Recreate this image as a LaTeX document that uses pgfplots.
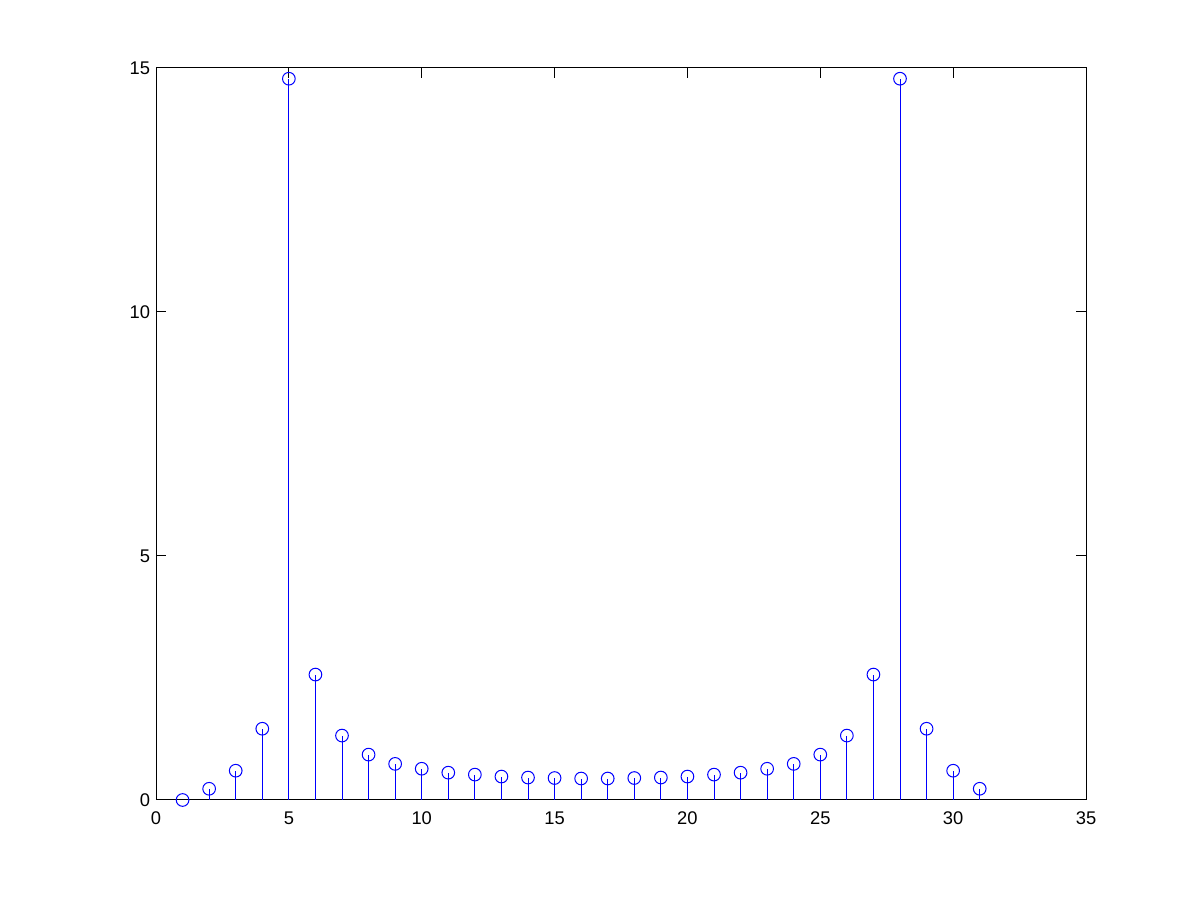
\documentclass[border=0pt]{standalone}
\usepackage{fontspec}
\setmainfont{Liberation Sans}
\usepackage{pgfplots}
\pgfplotsset{compat=1.18}
\definecolor{mblue}{RGB}{0,0,255}
\begin{document}
\begin{tikzpicture}
\useasboundingbox (0,0) rectangle (720pt,540pt);
\begin{axis}[
  at={(93.6pt,60pt)}, anchor=south west,
  scale only axis, width=558pt, height=439.2pt,
  xmin=0, xmax=35, ymin=0, ymax=15,
  xtick={0,5,...,35}, ytick={0,5,10,15},
  tick align=inside, major tick length=6pt,
  axis line style={line width=0.6pt}, tick style={line width=0.6pt, black},
  ticklabel style={font=\fontsize{11}{13}\selectfont},
  /pgf/number format/assume math mode=true,
  xticklabel style={yshift=-3.5pt},
  clip=false,
]
\addplot+[ycomb, mblue, line width=0.6pt, mark=o, mark size=3.8pt, mark options={mblue, line width=0.6pt, fill=none}] coordinates {
(1,0) (2,0.23) (3,0.60) (4,1.46) (5,14.78) (6,2.57) (7,1.32) (8,0.93)
(9,0.74) (10,0.64) (11,0.56) (12,0.52) (13,0.48) (14,0.46) (15,0.45)
(16,0.44) (17,0.44) (18,0.45) (19,0.46) (20,0.48) (21,0.52) (22,0.56)
(23,0.64) (24,0.74) (25,0.93) (26,1.32) (27,2.57) (28,14.78) (29,1.46)
(30,0.60) (31,0.23)
};
\end{axis}
\end{tikzpicture}
\end{document}
